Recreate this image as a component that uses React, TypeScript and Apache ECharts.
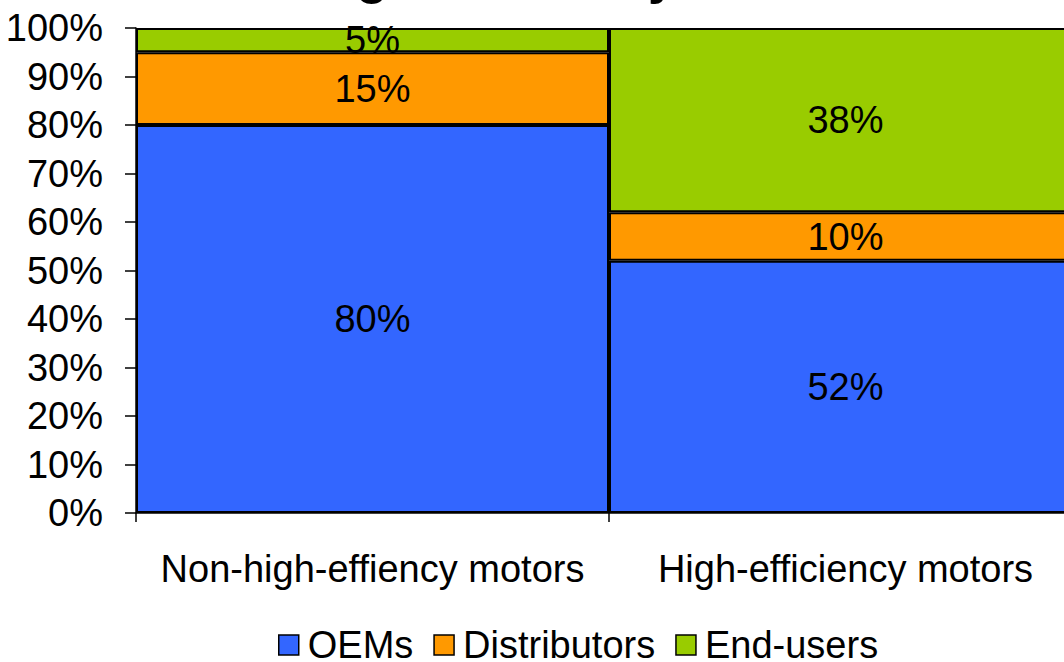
import React, { useEffect, useRef } from "react";
import * as echarts from "echarts";

const categories = ["Non-high-effiency motors", "High-efficiency motors"];
const oems = [80, 52];
const distributors = [15, 10];
const endUsers = [5, 38];
const yTicks = [0, 10, 20, 30, 40, 50, 60, 70, 80, 90, 100];
const titleText = "of high-efficiency motors";

const FONT = "'Liberation Sans', Arial, sans-serif";
const FS = 38;

export default function App() {
  const ref = useRef<HTMLDivElement>(null);
  useEffect(() => {
    if (!ref.current) return;
    const chart = echarts.init(ref.current, undefined, { renderer: "svg" });
    const label = {
      show: true,
      position: "inside",
      color: "#000",
      fontSize: FS,
      fontFamily: FONT,
      formatter: (p: any) => p.value + "%",
    };
    const mk = (name: string, data: number[], color: string) => ({
      name,
      type: "bar",
      stack: "total",
      data,
      barWidth: "100%",
      barCategoryGap: "0%",
      itemStyle: { color, borderColor: "#000", borderWidth: 2 },
      label,
    });
    chart.setOption({
      animation: false,
      textStyle: { fontFamily: FONT },
      graphic: [
        {
          type: "text",
          x: 557,
          y: -25,
          style: {
            text: titleText,
            fontSize: 52,
            fontWeight: "bold",
            fontFamily: FONT,
            fill: "#000",
            textAlign: "center",
            textVerticalAlign: "middle",
          },
        },
      ],
      legend: {
        left: 278,
        top: 626,
        padding: 0,
        itemWidth: 20,
        itemHeight: 20,
        itemGap: 20,
        icon: "rect",
        textStyle: { fontSize: FS, color: "#000", fontFamily: FONT, padding: [0, 0, 0, 4] },
        itemStyle: { borderColor: "#000", borderWidth: 1.5 },
        data: ["OEMs", "Distributors", "End-users"],
      },
      grid: { left: 136, top: 28, width: 946, height: 485, outerBoundsMode: "none", containLabel: false },
      xAxis: {
        type: "category",
        data: categories,
        axisLine: { lineStyle: { color: "#000", width: 1.5 } },
        axisTick: { show: true, length: 9, lineStyle: { color: "#000", width: 1.5 } },
        axisLabel: { color: "#000", fontSize: FS, fontFamily: FONT, margin: 37, interval: 0, hideOverlap: false },
      },
      yAxis: {
        type: "value",
        min: yTicks[0],
        max: yTicks[yTicks.length - 1],
        interval: 10,
        axisLine: { show: true, lineStyle: { color: "#000", width: 1.5 } },
        axisTick: { show: true, length: 11, lineStyle: { color: "#000", width: 1.5 } },
        splitLine: { show: false },
        axisLabel: {
          color: "#000",
          fontSize: FS,
          fontFamily: FONT,
          margin: 33,
          formatter: (v: number) => v + "%",
        },
      },
      series: [
        mk("OEMs", oems, "#3366FF"),
        mk("Distributors", distributors, "#FF9900"),
        mk("End-users", endUsers, "#99CC00"),
      ],
    });
    return () => chart.dispose();
  }, []);
  return (
    <div
      ref={ref}
      style={{ position: "fixed", left: 0, top: 0, width: 1064, height: 662, background: "#fff" }}
    />
  );
}
